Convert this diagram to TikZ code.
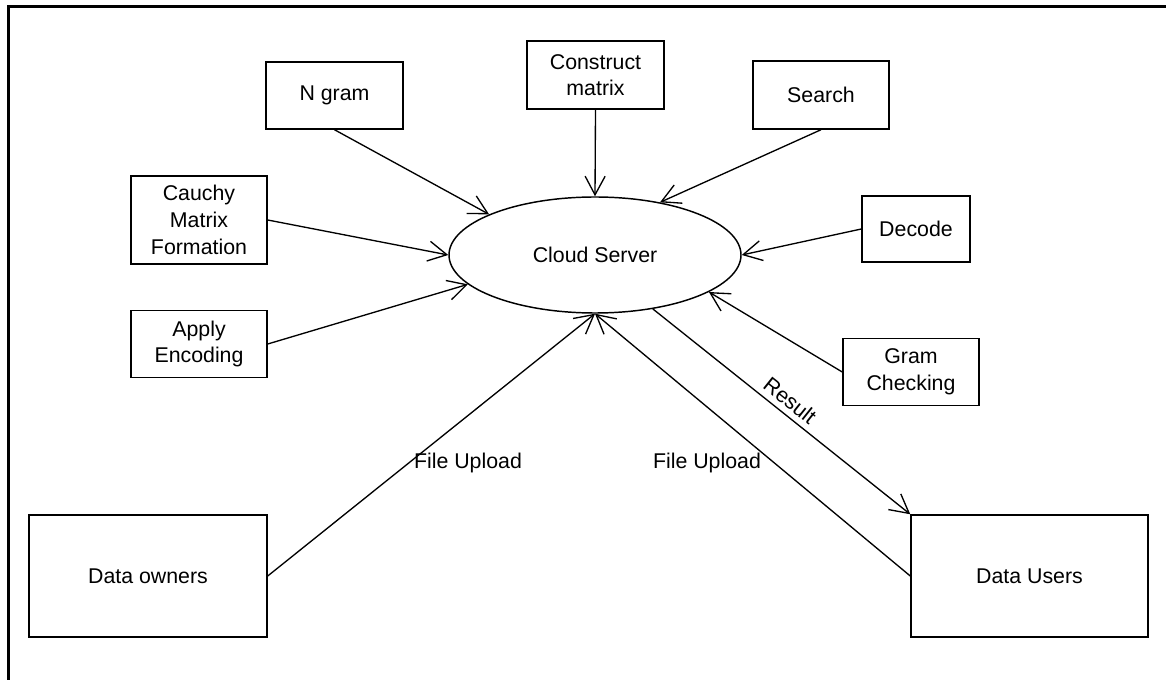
\documentclass[tikz,border=0pt]{standalone}
\usepackage{fontspec}
\setmainfont{Liberation Sans}
\usetikzlibrary{shapes.geometric,arrows.meta}
\begin{document}
\begin{tikzpicture}[x=0.75pt,y=-0.75pt,
  txt/.style={font=\fontsize{16}{20}\selectfont},
  box/.style={draw,line width=1.1pt,inner sep=0pt,align=center,txt},
  conn/.style={line width=1pt,-{Straight Barb[length=14pt,width=15pt,line width=1pt]}},
  plain/.style={line width=1pt}]
\useasboundingbox (0,0) rectangle (1166,680);
\draw[line width=2pt] (8.5,680) -- (8.5,6.5) -- (1166,6.5);

\node[draw,ellipse,line width=1.1pt,inner sep=0pt,minimum width=219pt,minimum height=87pt,txt] (cloud) at (595,255) {Cloud Server};

\node[box,minimum width=102.75pt,minimum height=50.25pt] (ngram) at (334.5,95.5) {N gram};
\node[box,minimum width=102.75pt,minimum height=51pt] (construct) at (595.5,75) {Construct\\matrix};
\node[box,minimum width=102pt,minimum height=51pt] (search) at (821,95) {Search};
\node[box,minimum width=102pt,minimum height=66pt] (cauchy) at (199,220) {Cauchy\\Matrix\\Formation};
\node[box,minimum width=81pt,minimum height=49.5pt] (decode) at (916,229) {Decode};
\node[box,minimum width=102pt,minimum height=50.25pt] (apply) at (199,344) {Apply\\Encoding};
\node[box,minimum width=102pt,minimum height=50.25pt] (gram) at (911,372) {Gram\\Checking};
\node[box,minimum width=178.5pt,minimum height=91.5pt] (owners) at (148,576) {Data owners};
\node[box,minimum width=177.75pt,minimum height=91.5pt] (users) at (1029.5,576) {Data Users};

\draw[conn] (ngram.south) -- (cloud.159);
\draw[conn] (construct.south) -- (cloud.90);
\draw[conn] (search.south) -- (cloud.39);
\draw[conn] (cauchy.east) -- (cloud.180);
\draw[conn] (decode.west) -- (cloud.0);
\draw[conn] (apply.east) -- (cloud.193.5);
\draw[conn] (gram.west) -- (cloud.342);
\draw[conn] (owners.east) -- (cloud.270);
\draw[conn] (users.west) -- (cloud.270);
\draw[conn] (cloud.317.5) -- node[pos=0.5,sloped,above,txt,inner sep=4pt] (reslbl) {Result} (users.north west);

\node[txt] (fu1) at (468,463) {File Upload};
\node[txt] (fu2) at (707,463) {File Upload};
\end{tikzpicture}
\end{document}
